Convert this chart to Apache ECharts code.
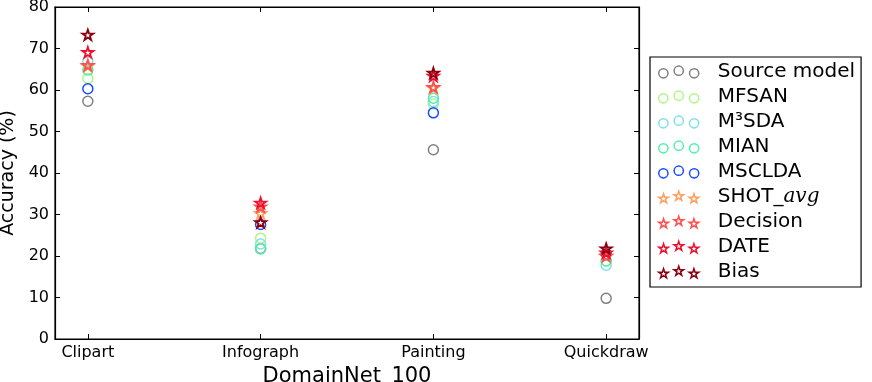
<!DOCTYPE html>
<html><head><meta charset="utf-8">
<script src="https://cdn.jsdelivr.net/npm/echarts@6/dist/echarts.min.js"></script>
<style>html,body{margin:0;padding:0;background:#fff}#c{width:872px;height:382px}</style>
</head><body><div id="c"></div>
<script>
const categories = ['Clipart', 'Infograph', 'Painting', 'Quickdraw'];
const yTicks = [0, 10, 20, 30, 40, 50, 60, 70, 80];
const seriesNames = ['Source model', 'MFSAN', 'M³SDA', 'MIAN', 'MSCLDA', 'SHOT_avg', 'Decision', 'DATE', 'Bias'];
const sourceModel = [57.3, 21.8, 45.6, 9.8];
const mfsan      = [62.8, 24.3, 56.6, 18.8];
const m3sda      = [66.8, 22.9, 57.2, 17.8];
const mian       = [64.8, 21.7, 58.0, 18.8];
const msclda     = [60.3, 27.6, 54.5, 20.5];
const shotAvg    = [65.8, 30.3, 60.5, 20.0];
const decision   = [66.0, 31.9, 60.7, 20.0];
const date       = [69.1, 32.8, 63.4, 20.8];
const bias       = [73.3, 28.1, 64.1, 21.8];
const values = [sourceModel, mfsan, m3sda, mian, msclda, shotAvg, decision, date, bias];
const colors = ['#808080', '#b0f58a', '#7fe0ea', '#50f0a8', '#1a4cff', '#ffa060', '#ff5050', '#ee1030', '#8b0010'];
const markers = ['c', 'c', 'c', 'c', 'c', 's', 's', 's', 's'];

const STAR = 'M50 0 L61.23 34.55 L97.55 34.55 L68.16 55.9 L79.39 90.45 L50 69.1 L20.61 90.45 L31.84 55.9 L2.45 34.55 L38.77 34.55 Z';
function starAt(cx, cy, r) {
  const pts = [[50,0],[61.23,34.55],[97.55,34.55],[68.16,55.9],[79.39,90.45],[50,69.1],[20.61,90.45],[31.84,55.9],[2.45,34.55],[38.77,34.55]];
  return pts.map((p, i) => (i ? 'L' : 'M') + (cx + (p[0] - 50) / 50 * r).toFixed(2) + ' ' + (cy + (p[1] - 50) / 50 * r).toFixed(2)).join(' ') + ' Z';
}
function circAt(cx, cy, r) {
  return 'M' + (cx - r) + ' ' + cy + ' A' + r + ' ' + r + ' 0 1 0 ' + (cx + r) + ' ' + cy + ' A' + r + ' ' + r + ' 0 1 0 ' + (cx - r) + ' ' + cy + ' Z';
}
const legCirc = 'path://' + circAt(5, 8, 4.5) + ' ' + circAt(20, 5.5, 4.5) + ' ' + circAt(35, 8, 4.5);
const legStar = 'path://' + starAt(5, 8, 5) + ' ' + starAt(20, 5.5, 5) + ' ' + starAt(35, 8, 5);

const series = seriesNames.map((name, k) => ({
  name: name,
  type: 'scatter',
  xAxisIndex: 0, yAxisIndex: 0,
  symbol: markers[k] === 'c' ? 'circle' : 'path://' + STAR,
  symbolKeepAspect: true,
  symbolSize: markers[k] === 'c' ? 10 : 11,
  itemStyle: { color: 'rgba(255,255,255,0)', borderColor: colors[k], borderWidth: markers[k] === 'c' ? 1.5 : 1.8, opacity: 1 },
  emphasis: { disabled: true },
  data: values[k].map((v, i) => [i, v])
}));

const legendData = seriesNames.map((name, k) => ({
  name: name,
  icon: markers[k] === 'c' ? legCirc : legStar,
  itemStyle: { color: 'rgba(255,255,255,0)', borderColor: colors[k], borderWidth: 1.5 }
}));

const font = 'DejaVu Sans';
const chart = echarts.init(document.getElementById('c'), null, { renderer: 'canvas' });
chart.setOption({
  animation: false,
  backgroundColor: '#fff',
  grid: { left: 55, right: 233, top: 7, bottom: 43, outerBoundsMode: 'none', containLabel: false, show: true, borderColor: '#000', borderWidth: 1.2, backgroundColor: 'transparent' },
  legend: {
    orient: 'vertical', left: 650, top: 57,
    padding: [5, 6, 5, 8],
    borderColor: '#000', borderWidth: 1.2,
    itemWidth: 40, itemHeight: 13, itemGap: 5,
    selectedMode: false,
    data: legendData,
    formatter: n => n === 'SHOT_avg' ? 'SHOT_{i|avg}' : n,
    textStyle: {
      fontFamily: font, fontSize: 20, color: '#000', lineHeight: 20, padding: [0, 0, 0, 14],
      rich: { i: { fontFamily: 'DejaVu Serif', fontStyle: 'italic', fontSize: 20, color: '#000', lineHeight: 20 } }
    }
  },
  xAxis: [{
    type: 'value', min: -0.19, max: 3.19,
    name: 'DomainNet_100', nameLocation: 'middle', nameGap: 18,
    nameTextStyle: { fontFamily: font, fontSize: 21, color: '#000', verticalAlign: 'top' },
    axisLine: { show: true, onZero: false, lineStyle: { color: '#000', width: 1.2 } },
    axisTick: { show: true, inside: true, length: 5, customValues: [0, 1, 2, 3], lineStyle: { color: '#000' } },
    axisLabel: { customValues: [0, 1, 2, 3], formatter: v => categories[Math.round(v)], fontFamily: font, fontSize: 16, color: '#000', margin: 6 },
    splitLine: { show: false }
  }, {
    type: 'value', min: -0.19, max: 3.19, position: 'top',
    axisLine: { show: true, onZero: false, lineStyle: { color: '#000', width: 1.2 } },
    axisTick: { show: true, inside: true, length: 5, customValues: [0, 1, 2, 3], lineStyle: { color: '#000' } },
    axisLabel: { show: false }, splitLine: { show: false }
  }],
  yAxis: [{
    type: 'value', min: 0, max: 80, interval: 10,
    name: 'Accuracy (%)', nameLocation: 'middle', nameGap: 31,
    nameTextStyle: { fontFamily: font, fontSize: 19, color: '#000' },
    axisLine: { show: true, onZero: false, lineStyle: { color: '#000', width: 1.2 } },
    axisTick: { show: true, inside: true, length: 5, lineStyle: { color: '#000' } },
    axisLabel: { fontFamily: font, fontSize: 16, color: '#000', margin: 6, formatter: v => yTicks.includes(v) ? String(v) : '' },
    splitLine: { show: false }
  }, {
    type: 'value', min: 0, max: 80, interval: 10, position: 'right',
    axisLine: { show: true, onZero: false, lineStyle: { color: '#000', width: 1.2 } },
    axisTick: { show: true, inside: true, length: 5, lineStyle: { color: '#000' } },
    axisLabel: { show: false }, splitLine: { show: false }
  }],
  series: series
});
</script></body></html>
